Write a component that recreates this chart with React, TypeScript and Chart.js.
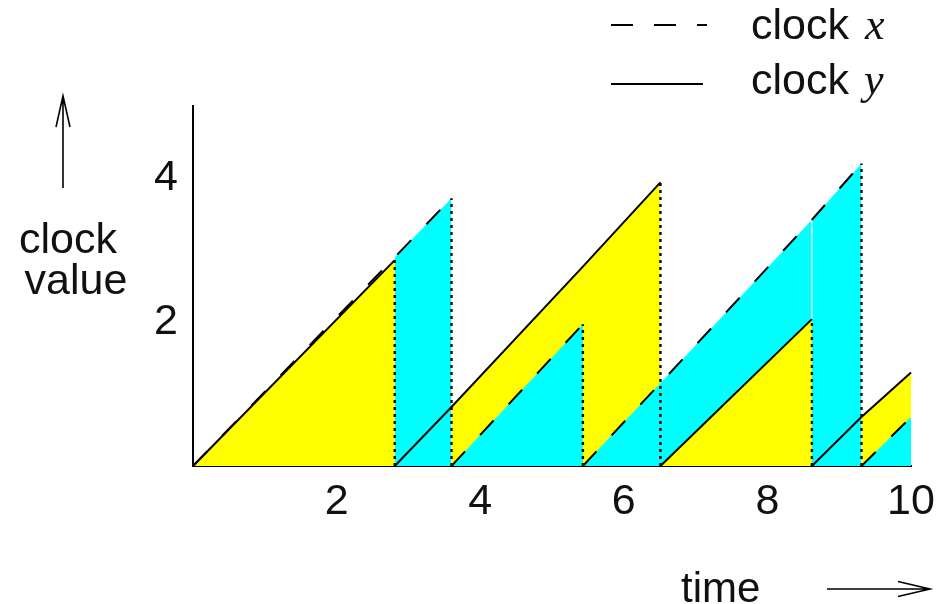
import React, { useEffect, useRef } from 'react';
import { Chart, registerables } from 'chart.js';

Chart.register(...registerables);

// ---- axis ticks ----
const xTickValues = [2, 4, 6, 8, 10];
const yTickValues = [2, 4];

// ---- clock x (dashed): sawtooth pieces (vertex times / values) ----
const clockXTimes = [[0, 2.81, 3.6], [3.6, 5.43], [5.43, 6.51, 8.62, 9.31], [9.31, 10]];
const clockXValues = [[0, 2.9, 3.72], [0, 1.97], [0, 1.15, 3.42, 4.2], [0, 0.68]];

// ---- clock y (solid): sawtooth pieces ----
const clockYTimes = [[0, 2.81], [2.81, 3.6, 5.43, 6.51], [6.51, 8.62], [8.62, 9.31, 10]];
const clockYValues = [[0, 2.86], [0, 0.82, 2.77, 3.94], [0, 2.04], [0, 0.68, 1.3]];

// ---- shaded intervals (yellow under clock y, cyan under clock x) ----
const yellowLowSpans = [[0, 2.81], [3.6, 6.51], [9.31, 10]];
const cyanSpans = [[2.81, 3.6], [3.6, 5.43], [5.43, 8.62], [8.62, 9.31], [9.31, 10]];
const yellowHighSpans = [[6.51, 8.62]];

// ---- dotted reset markers ----
const resetTimes = [2.81, 3.6, 5.43, 6.51, 8.62, 9.31];
const resetHeights = [2.86, 3.72, 1.97, 3.94, 2.04, 4.2];

// ---- thin white seam between adjacent cyan regions ----
const seamTimes = [8.62];
const seamLow = [2.04];
const seamHigh = [3.42];

const SANS = "'Liberation Sans', Arial, Helvetica, sans-serif";
const SERIF = "'Liberation Serif', 'DejaVu Serif', serif";
const YELLOW = '#ffff00';
const CYAN = '#00ffff';

function piece(times: number[][], values: number[][], a: number, b: number) {
  for (let s = 0; s < times.length; s++) {
    const t = times[s];
    if (t[0] <= a + 1e-9 && t[t.length - 1] >= b - 1e-9) {
      return t
        .map((tt, i) => ({ x: tt, y: values[s][i] }))
        .filter((p) => p.x >= a - 1e-9 && p.x <= b + 1e-9);
    }
  }
  return [];
}

const decorPlugin = {
  id: 'decor',
  afterDraw(chart: any) {
    const ctx: CanvasRenderingContext2D = chart.ctx;
    ctx.save();
    ctx.fillStyle = '#111';
    ctx.strokeStyle = '#000';
    ctx.textBaseline = 'alphabetic';

    // y-axis title
    ctx.font = `43px ${SANS}`;
    ctx.textAlign = 'center';
    ctx.fillText('clock', 68, 253);
    ctx.fillText('value', 76, 294);

    // up arrow
    ctx.lineWidth = 1.6;
    ctx.setLineDash([]);
    ctx.beginPath();
    ctx.moveTo(63, 188);
    ctx.lineTo(63, 96);
    ctx.moveTo(56, 127);
    ctx.lineTo(63, 96);
    ctx.lineTo(70, 127);
    ctx.stroke();

    // x-axis title
    ctx.textAlign = 'left';
    ctx.font = `42px ${SANS}`;
    ctx.fillText('time', 681, 602);

    // right arrow
    ctx.beginPath();
    ctx.moveTo(827, 589);
    ctx.lineTo(929, 589);
    ctx.moveTo(898, 581.5);
    ctx.lineTo(930, 589);
    ctx.lineTo(898, 596.5);
    ctx.stroke();

    // legend
    ctx.lineWidth = 2;
    ctx.setLineDash([22, 21]);
    ctx.beginPath();
    ctx.moveTo(611, 25);
    ctx.lineTo(707, 25);
    ctx.stroke();
    ctx.setLineDash([]);
    ctx.beginPath();
    ctx.moveTo(611, 84);
    ctx.lineTo(703, 84);
    ctx.stroke();

    ctx.font = `43px ${SANS}`;
    ctx.fillText('clock', 751, 39);
    ctx.fillText('clock', 751, 94);
    ctx.font = `italic 44px ${SERIF}`;
    ctx.fillText('x', 865, 39);
    ctx.fillText('y', 864, 94);
    ctx.restore();
  },
};

export default function App() {
  const ref = useRef<HTMLCanvasElement>(null);

  useEffect(() => {
    const canvas = ref.current;
    if (!canvas) return;

    const layers: any[] = [];
    const fillDs = (pts: any[], color: string) => ({
      data: pts,
      fill: 'origin',
      backgroundColor: color,
      borderColor: 'rgba(0,0,0,0)',
      borderWidth: 0,
      pointRadius: 0,
    });

    yellowLowSpans.forEach(([a, b]) => layers.push(fillDs(piece(clockYTimes, clockYValues, a, b), YELLOW)));
    cyanSpans.forEach(([a, b]) => layers.push(fillDs(piece(clockXTimes, clockXValues, a, b), CYAN)));
    yellowHighSpans.forEach(([a, b]) => layers.push(fillDs(piece(clockYTimes, clockYValues, a, b), YELLOW)));

    seamTimes.forEach((t, i) =>
      layers.push({
        data: [{ x: t, y: seamLow[i] }, { x: t, y: seamHigh[i] }],
        fill: false,
        borderColor: '#ffffff',
        borderWidth: 1.2,
        pointRadius: 0,
      })
    );

    resetTimes.forEach((t, i) =>
      layers.push({
        data: [{ x: t, y: 0 }, { x: t, y: resetHeights[i] }],
        fill: false,
        borderColor: '#000',
        borderWidth: 2.4,
        borderDash: [3, 4],
        pointRadius: 0,
      })
    );

    clockXTimes.forEach((ts, s) =>
      layers.push({
        data: ts.map((t, i) => ({ x: t, y: clockXValues[s][i] })),
        fill: false,
        borderColor: '#000',
        borderWidth: 2,
        borderDash: [20, 22],
        pointRadius: 0,
      })
    );
    clockYTimes.forEach((ts, s) =>
      layers.push({
        data: ts.map((t, i) => ({ x: t, y: clockYValues[s][i] })),
        fill: false,
        borderColor: '#000',
        borderWidth: 2,
        pointRadius: 0,
      })
    );

    const n = layers.length;
    const datasets = layers.map((d, i) => ({ ...d, order: n - i, tension: 0, clip: false }));

    const chart = new Chart(canvas, {
      type: 'line',
      data: { datasets },
      options: {
        responsive: false,
        animation: false,
        parsing: true,
        layout: { padding: { left: 0, right: 36, top: 106, bottom: 0 } },
        plugins: {
          legend: { display: false },
          tooltip: { enabled: false },
        },
        elements: { point: { radius: 0 } },
        scales: {
          x: {
            type: 'linear',
            min: 0,
            max: 10,
            grid: { display: false, drawTicks: false },
            border: { display: true, color: '#000', width: 2 },
            ticks: {
              color: '#111',
              font: { family: SANS, size: 43 },
              padding: 10,
              autoSkip: false,
              maxRotation: 0,
            },
            afterBuildTicks: (scale: any) => {
              scale.ticks = xTickValues.map((v) => ({ value: v }));
            },
            afterFit: (scale: any) => {
              scale.height = 138;
            },
          },
          y: {
            type: 'linear',
            min: 0,
            max: 5,
            grid: { display: false, drawTicks: false },
            border: { display: true, color: '#000', width: 2 },
            ticks: {
              color: '#111',
              font: { family: SANS, size: 43 },
              padding: 15,
              autoSkip: false,
            },
            afterBuildTicks: (scale: any) => {
              scale.ticks = yTickValues.map((v) => ({ value: v }));
            },
            afterFit: (scale: any) => {
              scale.width = 193;
            },
          },
        },
      } as any,
      plugins: [decorPlugin],
    });

    return () => chart.destroy();
  }, []);

  return (
    <div style={{ position: 'fixed', left: 0, top: 0, width: 947, height: 604, background: '#fff' }}>
      <canvas ref={ref} width={947} height={604} style={{ display: 'block', width: 947, height: 604 }} />
    </div>
  );
}
